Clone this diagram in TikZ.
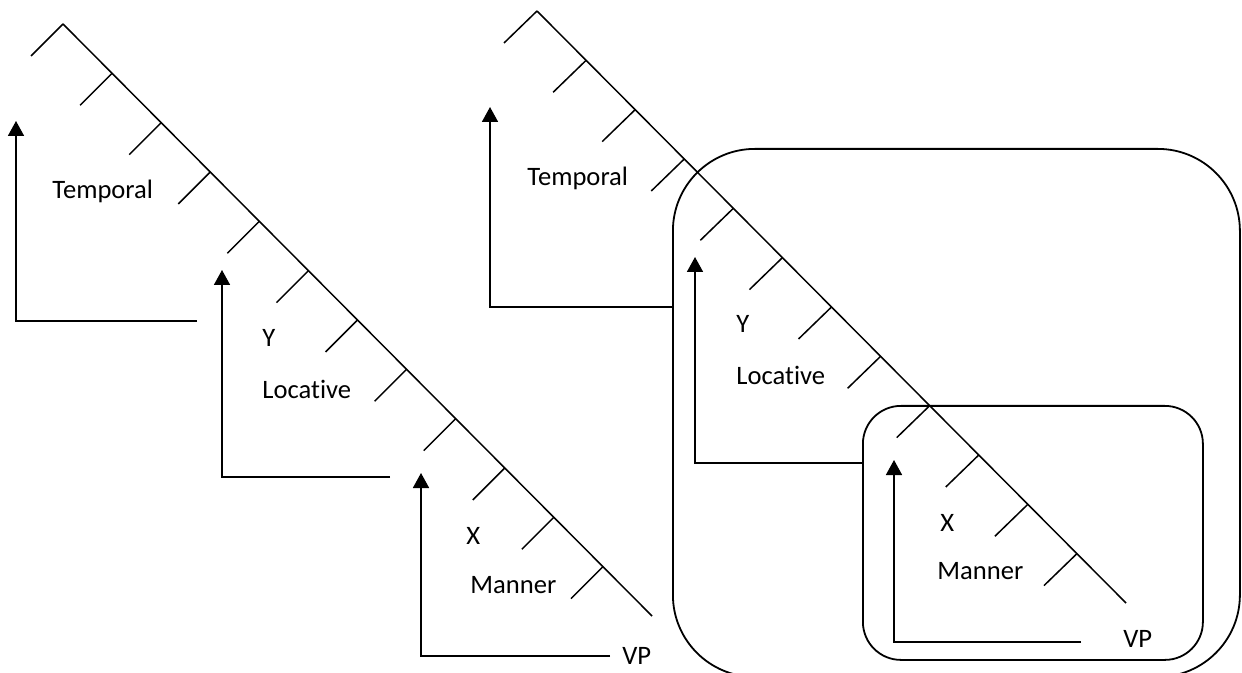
\documentclass[tikz,border=0pt]{standalone}
\usepackage{fontspec}
\setmainfont{Carlito}[Ligatures=NoCommon]
\usetikzlibrary{arrows.meta,calc}
\tikzset{
  spine/.style={line width=0.75pt},
  twig/.style={line width=0.75pt},
  hookline/.style={-{Triangle[length=7.5pt,width=8pt]}, line width=0.85pt},
  lab/.style={font=\fontsize{13.3}{15}\selectfont, inner sep=0pt, anchor=base west},
  grpbox/.style={draw, line width=0.9pt, inner sep=0pt, anchor=north west}
}

\begin{document}
\begin{tikzpicture}[x=0.5pt, y=-0.5pt]
  \useasboundingbox (0,0) rectangle (1242,673);

  % left tree
  \coordinate (lapex) at (63,24);
  \coordinate (lfoot) at (652,616);
  \draw[spine] (lapex) -- (lfoot);
  \foreach \k in {0,...,11}
    \draw[twig] ($(lapex)!\k/12!(lfoot)$) -- ++(-32,32);

  \node[lab] (ltemp) at (52,199) {Temporal};
  \node[lab] (ly) at (262,347) {Y};
  \node[lab] (lloc) at (262,399) {Locative};
  \node[lab] (lx) at (466,544) {X};
  \node[lab] (lman) at (470,593) {Manner};
  \node[lab] (lvp) at (622,664) {VP};

  \coordinate (ltemptip) at (16,121);
  \coordinate (ltempfoot) at (16,321);
  \coordinate (ltempend) at (197,321);
  \coordinate (lloctip) at (222,270);
  \coordinate (llocfoot) at (222,477);
  \coordinate (llocend) at (390,477);
  \coordinate (lmantip) at (421,473);
  \coordinate (lmanfoot) at (421,656);
  \coordinate (lmanend) at (610,656);
  \draw[hookline] (ltempend) -- (ltempfoot) -- (ltemptip);
  \draw[hookline] (llocend) -- (llocfoot) -- (lloctip);
  \draw[hookline] (lmanend) -- (lmanfoot) -- (lmantip);

  % right tree
  \coordinate (rapex) at (537,11);
  \coordinate (rfoot) at (1126,603);
  \draw[spine] (rapex) -- (rfoot);
  \foreach \k in {0,...,11}
    \draw[twig] ($(rapex)!\k/12!(rfoot)$) -- ++(-33,32);

  \node[lab] (rtemp) at (527,186) {Temporal};
  \node[lab] (ry) at (736,333) {Y};
  \node[lab] (rloc) at (736,385) {Locative};
  \node[lab] (rx) at (940,531) {X};
  \node[lab] (rman) at (937,579) {Manner};
  \node[lab] (rvp) at (1123,647) {VP};

  \node[grpbox, rounded corners=41pt, minimum width=283.5pt, minimum height=264pt] (outerbox) at (672,148) {};
  \node[grpbox, rounded corners=19pt, minimum width=170pt, minimum height=127pt] (innerbox) at (862,405) {};

  \coordinate (rtemptip) at (490,107);
  \coordinate (rtempfoot) at (490,307);
  \coordinate (rloctip) at (695,257);
  \coordinate (rlocfoot) at (695,463);
  \coordinate (rmantip) at (894,460);
  \coordinate (rmanfoot) at (894,642);
  \coordinate (rmanend) at (1081,642);
  \draw[hookline] (outerbox.west |- rtempfoot) -- (rtempfoot) -- (rtemptip);
  \draw[hookline] (innerbox.west |- rlocfoot) -- (rlocfoot) -- (rloctip);
  \draw[hookline] (rmanend) -- (rmanfoot) -- (rmantip);
\end{tikzpicture}
\end{document}
